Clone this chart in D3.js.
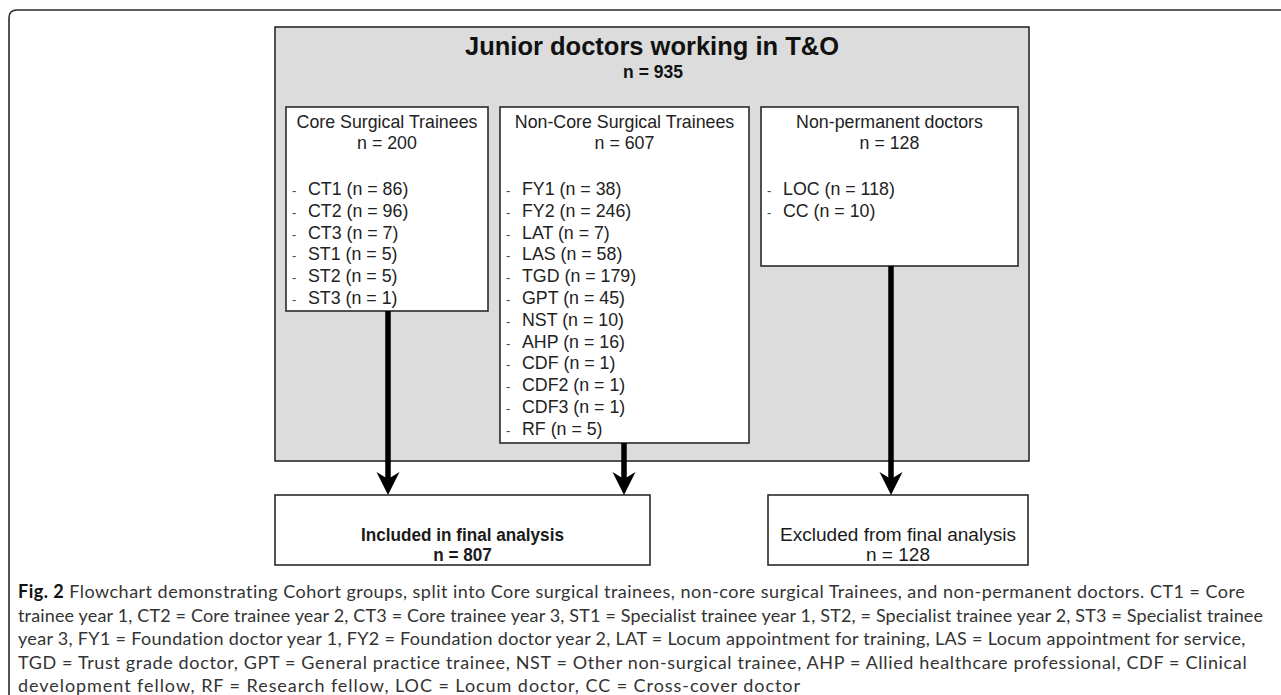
<!DOCTYPE html>
<html>
<head>
<meta charset="utf-8">
<script src="https://cdn.jsdelivr.net/npm/d3@7"></script>
<style>
  html, body { margin: 0; padding: 0; background: #fff; }
  svg { display: block; }
</style>
</head>
<body>
<div id="chart"></div>
<script>
/* global d3 */
// flowchart data
const title = 'Junior doctors working in T&O'
const totalN = 935

const groupNames = ['Core Surgical Trainees', 'Non-Core Surgical Trainees', 'Non-permanent doctors']
const groupTotals = [200, 607, 128]

const coreLabels = ['CT1', 'CT2', 'CT3', 'ST1', 'ST2', 'ST3']
const coreCounts = [86, 96, 7, 5, 5, 1]

const nonCoreLabels = ['FY1', 'FY2', 'LAT', 'LAS', 'TGD', 'GPT', 'NST', 'AHP', 'CDF', 'CDF2', 'CDF3', 'RF']
const nonCoreCounts = [38, 246, 7, 58, 179, 45, 10, 16, 1, 1, 1, 5]

const nonPermLabels = ['LOC', 'CC']
const nonPermCounts = [118, 10]

const outcomeNames = ['Included in final analysis', 'Excluded from final analysis']
const outcomeTotals = [807, 128]

const captionLines = [
  'Flowchart demonstrating Cohort groups, split into Core surgical trainees, non-core surgical Trainees, and non-permanent doctors. CT1 = Core',
  'trainee year 1, CT2 = Core trainee year 2, CT3 = Core trainee year 3, ST1 = Specialist trainee year 1, ST2, = Specialist trainee year 2, ST3 = Specialist trainee',
  'year 3, FY1 = Foundation doctor year 1, FY2 = Foundation doctor year 2, LAT = Locum appointment for training, LAS = Locum appointment for service,',
  'TGD = Trust grade doctor, GPT = General practice trainee, NST = Other non-surgical trainee, AHP = Allied healthcare professional, CDF = Clinical',
  'development fellow, RF = Research fellow, LOC = Locum doctor, CC = Cross-cover doctor'
]

;(function () {
  const width = 1281
  const height = 695
  const boxFont = '"Liberation Sans", Arial, sans-serif'

  const svg = d3.select('#chart')
    .append('svg')
    .attr('width', width)
    .attr('height', height)

  // outer frame (top + left edge, rounded corner)
  svg.append('path')
    .attr('d', 'M9,' + (height + 5) + ' L9,18 Q9,10 17,10 L' + (width + 5) + ',10')
    .attr('fill', 'none')
    .attr('stroke', '#2a2a2a')
    .attr('stroke-width', 1.6)

  // grey container
  const outer = { x0: 275, x1: 1029, y0: 27, y1: 461 }
  svg.append('rect')
    .attr('x', outer.x0).attr('y', outer.y0)
    .attr('width', outer.x1 - outer.x0).attr('height', outer.y1 - outer.y0)
    .attr('fill', '#dcdcdc')
    .attr('stroke', '#2a2a2a')
    .attr('stroke-width', 1.6)

  svg.append('text')
    .attr('x', 652).attr('y', 55)
    .attr('text-anchor', 'middle')
    .attr('font-family', boxFont).attr('font-weight', 'bold')
    .attr('font-size', 25.5).attr('fill', '#111')
    .text(title)

  svg.append('text')
    .attr('x', 653).attr('y', 78)
    .attr('text-anchor', 'middle')
    .attr('font-family', boxFont).attr('font-weight', 'bold')
    .attr('font-size', 17.5).attr('fill', '#111')
    .text('n = ' + totalN)

  // group boxes
  const groups = [
    { labels: coreLabels, counts: coreCounts, x0: 286, x1: 488, y1: 311 },
    { labels: nonCoreLabels, counts: nonCoreCounts, x0: 500, x1: 749, y1: 443 },
    { labels: nonPermLabels, counts: nonPermCounts, x0: 761, x1: 1018, y1: 266 }
  ]
  const boxTop = 107

  // row position scale (index -> baseline)
  const rowScale = d3.scaleLinear().domain([0, 1]).range([195, 216.8])

  groups.forEach(function (g, i) {
    const gEl = svg.append('g')
    gEl.append('rect')
      .attr('x', g.x0).attr('y', boxTop)
      .attr('width', g.x1 - g.x0).attr('height', g.y1 - boxTop)
      .attr('fill', '#fff')
      .attr('stroke', '#2a2a2a')
      .attr('stroke-width', 1.6)

    const cx = (g.x0 + g.x1) / 2
    gEl.append('text')
      .attr('x', cx).attr('y', 128)
      .attr('text-anchor', 'middle')
      .attr('font-family', boxFont).attr('font-size', 17.8).attr('fill', '#222')
      .text(groupNames[i])
    gEl.append('text')
      .attr('x', cx).attr('y', 149)
      .attr('text-anchor', 'middle')
      .attr('font-family', boxFont).attr('font-size', 17.8).attr('fill', '#222')
      .text('n = ' + groupTotals[i])

    const rows = gEl.selectAll('.row')
      .data(g.labels.map((l, k) => ({ label: l, n: g.counts[k] })))
      .enter().append('g')
      .attr('class', 'row')
      .attr('transform', (d, k) => 'translate(' + g.x0 + ',' + rowScale(k) + ')')

    rows.append('text')
      .attr('x', 6)
      .attr('font-family', boxFont).attr('font-size', 13).attr('fill', '#444')
      .text('-')
    rows.append('text')
      .attr('x', 22)
      .attr('font-family', boxFont).attr('font-size', 17.8).attr('fill', '#222')
      .text(d => d.label + ' (n = ' + d.n + ')')
  })

  // outcome boxes (narrow type: squeezed horizontally)
  const outcomes = [
    { x0: 275, x1: 650, bold: true, textW: 203 },
    { x0: 768, x1: 1028, bold: false, textW: 236 }
  ]
  const outTop = 495
  const outBottom = 565
  outcomes.forEach(function (o, i) {
    svg.append('rect')
      .attr('x', o.x0).attr('y', outTop)
      .attr('width', o.x1 - o.x0).attr('height', outBottom - outTop)
      .attr('fill', '#fff')
      .attr('stroke', '#2a2a2a')
      .attr('stroke-width', 1.6)
    const cx = (o.x0 + o.x1) / 2
    const tg = svg.append('g').attr('transform', 'translate(' + cx + ',0)')
    const t1 = tg.append('text')
      .attr('y', 541.5)
      .attr('text-anchor', 'middle')
      .attr('font-family', boxFont)
      .attr('font-weight', o.bold ? 'bold' : 'normal')
      .attr('font-size', 18.5).attr('fill', '#1a1a1a')
      .text(outcomeNames[i])
    tg.append('text')
      .attr('y', 561.5)
      .attr('text-anchor', 'middle')
      .attr('font-family', boxFont)
      .attr('font-weight', o.bold ? 'bold' : 'normal')
      .attr('font-size', 18.5).attr('fill', '#1a1a1a')
      .text('n = ' + outcomeTotals[i])
    const natural = t1.node().getComputedTextLength()
    tg.attr('transform', 'translate(' + cx + ',0) scale(' + (o.textW / natural) + ',1)')
  })

  // arrows
  const arrows = [
    { x: 388, y0: groups[0].y1 },
    { x: 624, y0: groups[1].y1 },
    { x: 891, y0: groups[2].y1 }
  ]
  arrows.forEach(function (a) {
    svg.append('line')
      .attr('x1', a.x).attr('x2', a.x)
      .attr('y1', a.y0).attr('y2', 480)
      .attr('stroke', '#000')
      .attr('stroke-width', 5.5)
    svg.append('path')
      .attr('d', 'M' + a.x + ',' + outTop +
        ' L' + (a.x - 11.5) + ',472' +
        ' L' + a.x + ',479' +
        ' L' + (a.x + 11.5) + ',472 Z')
      .attr('fill', '#000')
  })

  // caption, each line spread to the width it has in the figure
  const lineEnds = [1245, 1263, 1246, 1247, 800]
  const caption = svg.append('text')
    .attr('font-family', 'Lato, "Open Sans", sans-serif')
    .attr('font-size', 18)
    .attr('fill', '#333')

  captionLines.forEach(function (line, i) {
    const t = caption.append('tspan')
      .attr('x', 18)
      .attr('y', 598 + i * 23.6)
    let chars
    if (i === 0) {
      t.append('tspan').attr('font-weight', 'bold').attr('fill', '#111').text('Fig. 2')
      t.append('tspan').text(' ' + line)
      chars = line.length + 7
    } else {
      t.text(line)
      chars = line.length
    }
    const natural = t.node().getComputedTextLength()
    const extra = (lineEnds[i] - 18 - natural) / (chars - 1)
    t.attr('letter-spacing', extra.toFixed(3))
  })
})()
</script>
</body>
</html>
